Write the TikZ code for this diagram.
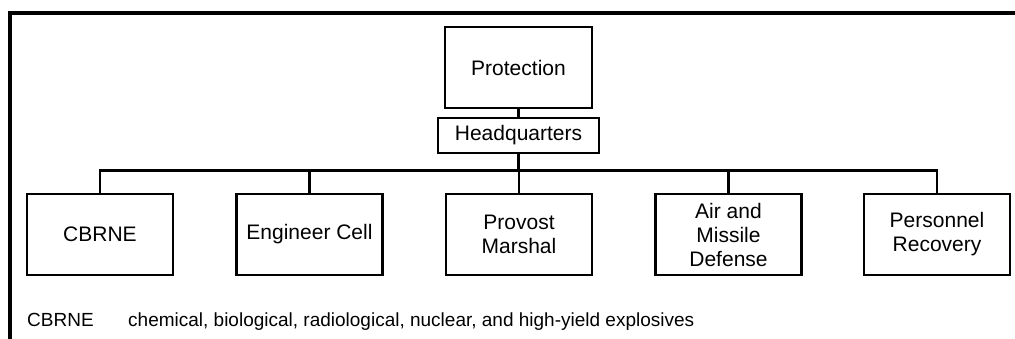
\documentclass[tikz,border=0pt]{standalone}
\usepackage{fontspec}
\setmainfont{Liberation Sans}
\begin{document}
\begin{tikzpicture}[x=1pt,y=-1pt,
  box/.style={draw,line width=2.5pt,minimum width=146pt,minimum height=81pt,inner sep=0pt,align=center,font=\fontsize{21}{24}\selectfont},
  link/.style={line width=2.5pt},
  note/.style={anchor=base west,inner sep=0pt,font=\fontsize{19}{22}\selectfont}]
\useasboundingbox (0,0) rectangle (1015,339);
\draw[line width=3.5pt] (10,339) -- (10,13) -- (1015,13);
\node[box,minimum width=147pt] (prot) at (518.5,67.5) {Protection};
\node[box,minimum width=161pt,minimum height=35pt] (hq) at (518.5,135.5) {Headquarters};
\coordinate (bus) at (518.5,172);
\node[box] (c1) at (100,234.5) {CBRNE};
\node[box] (c2) at (309.5,234.5) {Engineer Cell};
\node[box] (c3) at (519,234.5) {Provost\\Marshal};
\node[box] (c4) at (728.5,234.5) {Air and\\Missile\\Defense};
\node[box] (c5) at (937,234.5) {Personnel\\Recovery};
\draw[link] (prot) -- (hq);
\draw[link] (hq.south) -- (bus);
\draw[link] (c1.north) -- ++(0,-22) -| (c5.north);
\draw[link] (c2.north) -- (c2.north |- bus);
\draw[link] (c3.north) -- (c3.north |- bus);
\draw[link] (c4.north) -- (c4.north |- bus);
\node[note] (abbr) at (27,326) {CBRNE};
\node[note] (def) at (128,326) {chemical, biological, radiological, nuclear, and high-yield explosives};
\end{tikzpicture}
\end{document}
